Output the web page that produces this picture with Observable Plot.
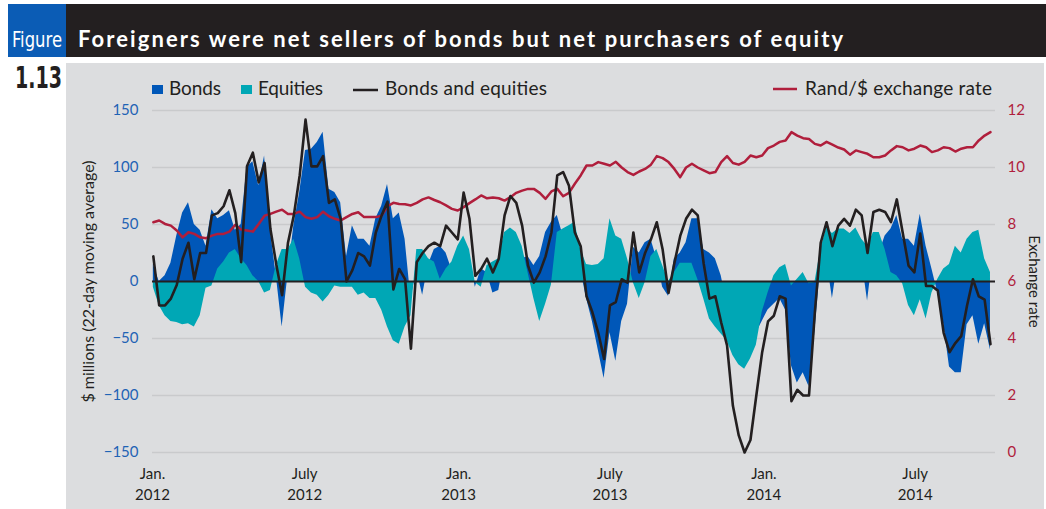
<!DOCTYPE html>
<html><head><meta charset="utf-8">
<script src="https://cdn.jsdelivr.net/npm/d3@7"></script>
<script src="https://cdn.jsdelivr.net/npm/@observablehq/plot@0.6"></script>
<style>
html,body{margin:0;padding:0;background:#fff;}
#wrap{position:relative;width:1046px;height:509px;overflow:hidden;font-family:Lato,sans-serif;}
#panel{position:absolute;left:66px;top:63px;width:978px;height:446px;background:#dcdddf;}
#head{position:absolute;left:0;top:0;}
#chart{position:absolute;left:0;top:100px;}
</style></head>
<body><div id="wrap">
<div id="panel"></div>
<svg id="head" width="1046" height="100" font-family="Lato, sans-serif">
  <rect x="8" y="4" width="58" height="53" fill="#0b5cb5"/>
  <rect x="66" y="4" width="980" height="53" fill="#231f20"/>
  <text x="12" y="47" fill="#fff" font-size="21" textLength="50" lengthAdjust="spacingAndGlyphs" font-family="'Liberation Sans Narrow','DejaVu Sans Condensed',sans-serif">Figure</text>
  <text x="78" y="47" fill="#fff" font-weight="bold" font-size="22" textLength="765" lengthAdjust="spacing">Foreigners were net sellers of bonds but net purchasers of equity</text>
  <text x="15" y="88" fill="#231f20" font-weight="bold" font-size="30" textLength="47" lengthAdjust="spacingAndGlyphs" font-family="'Liberation Sans Narrow','DejaVu Sans Condensed',sans-serif">1.13</text>
  <rect x="152" y="85" width="11" height="9" fill="#0057b8"/>
  <text x="169" y="95" fill="#231f20" font-size="19" textLength="52" lengthAdjust="spacing">Bonds</text>
  <rect x="241" y="85" width="11" height="9" fill="#00a7b5"/>
  <text x="258" y="95" fill="#231f20" font-size="19" textLength="65" lengthAdjust="spacing">Equities</text>
  <line x1="353" x2="378" y1="90" y2="90" stroke="#231f20" stroke-width="2.5"/>
  <text x="385" y="95" fill="#231f20" font-size="19" textLength="162" lengthAdjust="spacing">Bonds and equities</text>
  <line x1="773" x2="797" y1="89" y2="89" stroke="#b01e3c" stroke-width="2.5"/>
  <text x="805" y="95" fill="#231f20" font-size="19" textLength="187" lengthAdjust="spacing">Rand/$ exchange rate</text>
</svg>
<div id="chart"></div>
</div>
<script>
// Weekly readings starting 2 Jan 2012 ($ millions, 22-day moving average)
const bonds = [15,0,5,16,40,60,69,50,45,31,63,55,58,62,45,50,100,105,84,110,45,5,-40,6,49,78,115,116,122,131,81,78,69,22,49,37,37,
31,55,66,85,55,60,37,-15,10,-12,15,28,31,25,10,15,30,20,-5,11,8,-10,-8,20,30,30,20,22,14,22,43,52,58,40,40,30,
10,-15,-35,-60,-85,-45,-70,-35,-20,30,25,34,37,20,-5,-13,20,25,34,55,55,28,25,20,5,-20,-45,-60,-70,-65,-45,-35,-25,-20,-15,-25,
-74,-89,-80,-92,-45,15,20,-15,20,20,20,25,20,-17,25,25,40,46,58,37,37,31,59,31,11,-10,-37,-75,-80,-80,-38,-30,-55,-37,-60];
const equities = [-5,-21,-30,-35,-36,-38,-37,-40,-30,-6,-4,11,17,25,28,20,14,5,0,-10,-8,14,28,28,37,20,-5,-10,-12,-18,-12,-4,-5,-5,-5,-12,-10,
-15,-15,-25,-40,-52,-55,-40,-30,28,28,20,17,2,11,17,31,40,28,-1,-5,14,17,20,43,47,43,31,8,-15,-35,-20,-3,43,46,49,52,
28,15,14,15,20,55,40,37,20,-1,-15,-1,22,28,14,0,8,16,16,16,2,-15,-33,-40,-46,-52,-65,-73,-77,-68,-56,-27,-10,5,12,15,
-4,2,8,-2,-1,28,47,42,46,46,42,47,37,31,43,43,28,8,5,-2,-21,-30,-16,-33,-10,2,11,15,31,25,37,43,45,20,8];
const bondsAndEquities = [22,-21,-21,-15,-3,20,34,2,25,25,58,60,66,80,60,17,101,113,87,104,46,15,-12,34,58,93,142,101,101,110,69,72,55,0,10,25,22,
14,43,58,70,-7,11,2,-59,17,25,31,34,31,49,43,37,78,55,5,11,20,8,20,58,75,69,49,14,-1,8,22,43,93,96,84,43,
31,-13,-27,-45,-68,-21,-18,2,-1,43,8,25,37,52,28,-10,16,40,55,63,58,16,-15,-13,-36,-56,-109,-135,-150,-139,-100,-62,-35,-30,-13,-15,
-105,-95,-100,-100,-27,34,52,31,49,55,49,63,58,25,61,63,61,52,72,43,14,8,42,-4,-4,-8,-45,-62,-54,-48,-21,2,-13,-16,-55];
const randPerDollar = [8.08,8.14,8.02,7.96,7.79,7.55,7.73,7.67,7.55,7.52,7.61,7.67,7.67,7.75,7.99,7.82,7.79,7.75,8.02,8.31,8.37,8.45,8.52,8.37,8.37,8.45,8.26,8.2,8.26,8.45,8.29,8.2,8.14,8.26,8.37,8.43,8.26,
8.26,8.26,8.31,8.64,8.76,8.72,8.71,8.67,8.76,8.88,8.95,8.86,8.78,8.67,8.55,8.49,8.61,8.75,8.88,9.02,8.92,8.95,8.92,8.84,8.96,9.11,9.19,9.25,9.25,9.11,8.9,9.16,9.25,8.99,9.11,9.43,
9.72,10.07,10.07,10.19,10.13,10.07,10.2,10.0,9.84,9.74,9.86,9.95,10.1,10.4,10.33,10.19,9.95,9.66,10.0,10.13,10.0,9.9,9.8,9.84,10.19,10.4,10.16,10.1,10.2,10.42,10.36,10.42,10.68,10.77,10.9,10.95,
11.24,11.12,11.03,11.0,10.83,10.77,10.9,10.8,10.7,10.63,10.45,10.6,10.54,10.48,10.36,10.36,10.42,10.6,10.75,10.71,10.6,10.66,10.77,10.71,10.54,10.6,10.71,10.68,10.56,10.66,10.71,10.71,10.95,11.12,11.24];

const yTicks = [-150,-100,-50,0,50,100,150];
const rateTicks = [0,2,4,6,8,10,12];
const xTicks = ["2012-01-01","2012-07-01","2013-01-01","2013-07-01","2014-01-01","2014-07-01"];
const xTickLabels = ["Jan.\n2012","July\n2012","Jan.\n2013","July\n2013","Jan.\n2014","July\n2014"];

const BLUE = "#0057b8", TEAL = "#00a7b5", BLACK = "#231f20", RED = "#b01e3c", TICKBLUE = "#1f63b5";

const start = new Date(Date.UTC(2012, 0, 2));
const data = bonds.map((b, i) => ({
  date: new Date(start.getTime() + i * 7 * 864e5),
  bonds: b, equities: equities[i], total: bondsAndEquities[i], rate: randPerDollar[i]
}));
const xTickDates = xTicks.map(s => new Date(s + "T00:00:00Z"));
// right axis: exchange rate 0..12 drawn on the left -150..150 scale
const toLeft = r => (r - 6) * 25;

const chart = Plot.plot({
  width: 1046, height: 409,
  marginLeft: 152, marginRight: 51, marginTop: 10, marginBottom: 57,
  style: {background: "transparent", fontFamily: "Lato, sans-serif", fontSize: "15px", overflow: "visible"},
  x: {type: "utc", domain: [new Date("2012-01-01T00:00:00Z"), new Date("2014-10-05T00:00:00Z")]},
  y: {domain: [-150, 150]},
  marks: [
    Plot.ruleY(yTicks.filter(v => v !== 0), {stroke: "#c9cacc", strokeWidth: 1.5}),
    Plot.areaY(data, {x: "date", y1: 0, y2: "bonds", fill: BLUE}),
    Plot.areaY(data, {x: "date", y1: 0, y2: "equities", fill: TEAL}),
    Plot.ruleY([0], {stroke: BLACK, strokeWidth: 2}),
    Plot.lineY(data, {x: "date", y: d => toLeft(d.rate), stroke: RED, strokeWidth: 2.5}),
    Plot.lineY(data, {x: "date", y: "total", stroke: BLACK, strokeWidth: 2.6}),
    Plot.axisY(yTicks, {anchor: "left", tickSize: 0, tickPadding: 14, fill: TICKBLUE, label: null,
      tickFormat: d => d < 0 ? "\u2212" + Math.abs(d) : String(d)}),
    Plot.axisY(rateTicks.map(toLeft), {anchor: "right", tickSize: 0, tickPadding: 12, fill: RED, label: null,
      tickFormat: (d, i) => String(rateTicks[i])}),
    Plot.axisX(xTickDates, {anchor: "bottom", tickSize: 0, tickPadding: 12, fill: BLACK, label: null, lineHeight: 1.4,
      tickFormat: (d, i) => xTickLabels[i]}),
    Plot.text(["$ millions (22-day moving average)"], {frameAnchor: "left", textAnchor: "middle", lineAnchor: "middle",
      rotate: -90, dx: -64, fill: BLACK, fontSize: 16}),
    Plot.text(["Exchange rate"], {frameAnchor: "right", textAnchor: "middle", lineAnchor: "middle",
      rotate: 90, dx: 38, fill: BLACK, fontSize: 15})
  ]
});
document.getElementById("chart").appendChild(chart);
</script>
</body></html>
